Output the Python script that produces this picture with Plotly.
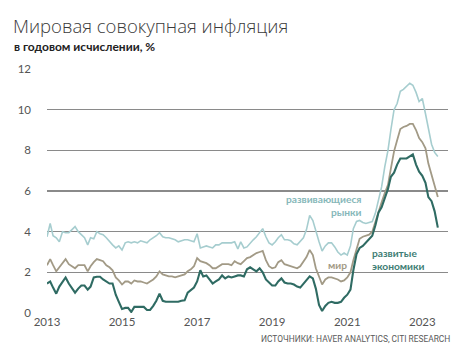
import plotly.graph_objects as go
import pandas as pd

# Monthly data, Jan 2013 .. Jun 2023 (y/y %)
dates = pd.date_range("2013-01-01", "2023-06-01", freq="MS")

em_values = [
    3.75, 4.4, 3.8, 3.7, 3.5, 4.0, 3.95, 3.95, 4.1, 4.25, 4.0, 3.85,
    3.7, 3.35, 3.7, 3.65, 4.0, 3.9, 3.85, 3.7, 3.5, 3.35, 3.2, 3.3,
    3.1, 3.45, 3.5, 3.45, 3.5, 3.45, 3.55, 3.5, 3.45, 3.6, 3.7, 3.8,
    3.95, 3.75, 3.7, 3.7, 3.65, 3.6, 3.5, 3.55, 3.6, 3.6, 3.55, 3.5,
    3.9, 3.2, 3.25, 3.3, 3.25, 3.2, 3.35, 3.35, 3.45, 3.45, 3.45, 3.45,
    3.5, 3.15, 3.5, 3.2, 3.25, 3.45, 3.6, 3.75, 3.95, 4.15, 3.75, 3.45,
    3.35, 3.5, 3.7, 3.85, 3.6, 3.6, 3.55, 3.4, 3.35, 3.5, 3.7, 4.1,
    4.8, 4.55, 4.0, 3.5, 3.05, 3.3, 3.45, 3.45, 3.25, 3.0, 2.85, 2.95,
    2.85, 3.3, 4.15, 4.5, 4.55, 4.45, 4.4, 4.45, 4.5, 4.9, 5.5, 6.2,
    7.2, 8.0, 9.0, 10.0, 10.3, 10.9, 11.0, 11.15, 11.3, 11.2, 10.85, 10.4,
    10.55, 9.8, 9.0, 8.3, 7.9, 7.7,
]

world_values = [
    2.35, 2.65, 2.35, 2.05, 2.25, 2.45, 2.65, 2.4, 2.3, 2.2, 2.35, 2.35,
    2.35, 2.05, 2.3, 2.5, 2.65, 2.6, 2.55, 2.35, 2.25, 2.1, 1.75, 1.6,
    1.4, 1.55, 1.55, 1.45, 1.6, 1.55, 1.55, 1.5, 1.45, 1.55, 1.65, 1.8,
    2.05, 1.9, 1.85, 1.8, 1.8, 1.75, 1.8, 1.85, 1.9, 2.05, 2.15, 2.3,
    2.7, 2.55, 2.5, 2.45, 2.35, 2.2, 2.2, 2.3, 2.4, 2.4, 2.4, 2.35,
    2.55, 2.45, 2.4, 2.55, 2.7, 2.75, 2.85, 2.95, 3.0, 3.05, 2.6, 2.3,
    2.2, 2.25, 2.5, 2.6, 2.4, 2.35, 2.3, 2.25, 2.2, 2.3, 2.55, 2.75,
    3.1, 2.85, 2.2, 1.75, 1.4, 1.65, 1.75, 1.75, 1.7, 1.65, 1.55, 1.6,
    1.75, 2.0, 2.6, 3.2, 3.65, 3.75, 3.8, 3.85, 4.0, 4.5, 5.05, 5.45,
    5.9, 6.3, 7.1, 7.95, 8.5, 9.05, 9.15, 9.2, 9.3, 9.3, 9.0, 8.6,
    8.4, 8.1, 7.35, 6.75, 6.3, 5.7,
]

dm_values = [
    1.45, 1.55, 1.25, 0.95, 1.3, 1.55, 1.75, 1.45, 1.25, 1.0, 1.2, 1.35,
    1.35, 1.15, 1.3, 1.75, 1.78, 1.78, 1.65, 1.55, 1.45, 1.45, 0.9, 0.55,
    0.2, 0.25, 0.25, 0.05, 0.3, 0.3, 0.3, 0.3, 0.15, 0.15, 0.35, 0.6,
    0.95, 0.6, 0.55, 0.55, 0.58, 0.57, 0.55, 0.6, 0.62, 1.0, 1.15, 1.25,
    1.55, 2.1, 1.8, 1.85, 1.65, 1.45, 1.55, 1.65, 1.85, 1.7, 1.8, 1.75,
    1.8, 1.85, 1.85, 1.8, 2.15, 2.25, 2.15, 2.05, 2.2, 2.0, 1.65, 1.5,
    1.35, 1.35, 1.55, 1.7, 1.5, 1.45, 1.45, 1.4, 1.3, 1.25, 1.45, 1.6,
    1.8, 1.7, 1.2, 0.4, 0.1, 0.35, 0.5, 0.55, 0.5, 0.5, 0.55, 0.75,
    0.9, 1.15, 2.1, 2.9, 3.2, 3.3, 3.45, 3.6, 3.8, 4.3, 4.95, 5.2,
    5.6, 6.1, 6.7, 6.9, 7.3, 7.6, 7.6, 7.6, 7.7, 7.8, 7.3, 6.95,
    6.75, 6.4, 5.7, 5.5, 5.0, 4.2,
]

y_ticks = [0, 2, 4, 6, 8, 10, 12]
x_tick_years = ["2013", "2015", "2017", "2019", "2021", "2023"]

title_text = "Мировая совокупная инфляция"
subtitle_text = "в годовом исчислении, %"
source_text = "ИСТОЧНИКИ: HAVER ANALYTICS, CITI RESEARCH"
em_label = "развивающиеся<br>рынки"
world_label = "мир"
dm_label = "развитые<br>экономики"

EM_COLOR = "#a6cdcf"
WORLD_COLOR = "#a29a86"
DM_COLOR = "#2f6b63"
FONT = "Lato, 'Open Sans', sans-serif"

fig = go.Figure()
fig.add_trace(go.Scatter(x=dates, y=em_values, mode="lines",
                         line=dict(color=EM_COLOR, width=1.6), hoverinfo="skip"))
fig.add_trace(go.Scatter(x=dates, y=world_values, mode="lines",
                         line=dict(color=WORLD_COLOR, width=1.8), hoverinfo="skip"))
fig.add_trace(go.Scatter(x=dates, y=dm_values, mode="lines",
                         line=dict(color=DM_COLOR, width=2.1), hoverinfo="skip"))

L, R, T, B = 47, 26, 69, 49
W, H = 474, 362
pw, ph = W - L - R, H - T - B


def px(x):
    return (x - L) / pw


def py(y):
    return (H - B - y) / ph


annotations = [
    dict(text=title_text, x=px(11), y=py(26), xanchor="left", yanchor="middle",
         font=dict(family="'Open Sans', Lato, sans-serif", size=18.5, color="#3a3a3a", weight=300)),
    dict(text=subtitle_text, x=px(12), y=py(46), xanchor="left", yanchor="middle",
         font=dict(family=FONT, size=12, color="#222222", weight=700)),
    dict(text=source_text, x=px(452), y=py(339), xanchor="right", yanchor="middle",
         font=dict(family="'Liberation Sans Narrow', Roboto, sans-serif", size=8.4,
                   color="#5a5a5a", weight=400)),
    dict(text=em_label, x=px(364), y=py(205.5), xanchor="right", yanchor="middle",
         align="right",
         font=dict(family=FONT, size=10.2, color="#86b7b9", weight=700)),
    dict(text=world_label, x=px(326), y=py(265), xanchor="left", yanchor="middle",
         font=dict(family=FONT, size=10.2, color="#a29a86", weight=700)),
    dict(text=dm_label, x=px(370), y=py(259), xanchor="left", yanchor="middle",
         align="left",
         font=dict(family=FONT, size=10.2, color="#3e7d74", weight=700)),
]
for a in annotations:
    a.update(xref="paper", yref="paper", showarrow=False)

fig.update_layout(
    width=W, height=H,
    margin=dict(l=L, r=R, t=T, b=B, pad=0),
    paper_bgcolor="white", plot_bgcolor="white",
    showlegend=False,
    annotations=annotations,
    font=dict(family=FONT, color="#555555", size=11.5),
    xaxis=dict(
        type="date",
        range=["2013-01-01", "2023-09-08"],
        tickvals=[f"{y}-01-01" for y in x_tick_years],
        ticktext=x_tick_years,
        showgrid=False, zeroline=False, showline=False, ticks="",
        tickfont=dict(size=11.5, color="#555555"),
    ),
    yaxis=dict(
        range=[0, 12],
        tickvals=y_ticks,
        showgrid=True, gridcolor="#8a8a8a", gridwidth=1.5,
        zeroline=False, showline=False, ticks="",
        ticklabelstandoff=15,
        tickfont=dict(size=11.5, color="#555555"),
    ),
)

fig.write_html(
    "out.html",
    config={"displayModeBar": False, "staticPlot": True},
    post_script="document.body.style.margin='0';document.body.style.padding='0';",
)
